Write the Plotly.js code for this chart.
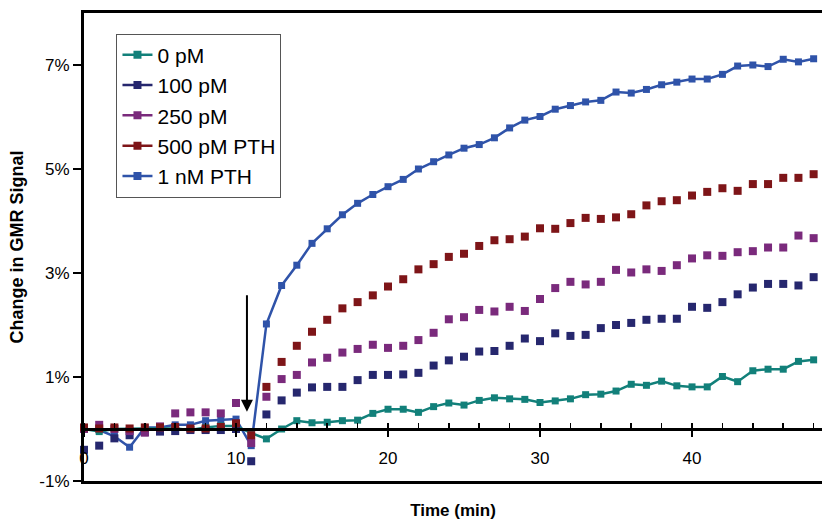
<!DOCTYPE html>
<html>
<head>
<meta charset="utf-8">
<script src="https://cdn.plot.ly/plotly-3.0.1.min.js"></script>
<style>html,body{margin:0;padding:0;background:#fff;}#chart{width:822px;height:520px;}</style>
</head>
<body>
<div id="chart"></div>
<script>
// Time (min)
const time = [0,1,2,3,4,5,6,7,8,9,10,11,12,13,14,15,16,17,18,19,20,21,22,23,24,25,26,27,28,29,30,31,32,33,34,35,36,37,38,39,40,41,42,43,44,45,46,47,48];
// Change in GMR signal (%)
const pM0 = [0,-0.05,0,0.01,0.01,0.01,0.01,-0.02,0.03,0.06,0.06,-0.08,-0.19,0,0.16,0.12,0.13,0.16,0.17,0.30,0.38,0.38,0.32,0.43,0.50,0.46,0.55,0.60,0.58,0.57,0.51,0.54,0.58,0.66,0.67,0.73,0.86,0.84,0.92,0.83,0.81,0.81,1.01,0.91,1.12,1.15,1.15,1.30,1.33];
const pM100 = [-0.40,-0.32,-0.18,-0.12,-0.06,-0.05,-0.04,-0.02,-0.02,-0.02,0.0,-0.62,0.28,0.55,0.70,0.80,0.81,0.81,0.94,1.04,1.04,1.05,1.08,1.22,1.32,1.39,1.49,1.50,1.60,1.74,1.69,1.84,1.79,1.81,1.94,2.00,2.04,2.10,2.12,2.12,2.35,2.33,2.44,2.59,2.72,2.79,2.79,2.76,2.92];
const pM250 = [0.0,0.08,0.0,-0.04,-0.07,0.05,0.30,0.32,0.32,0.30,0.50,-0.27,0.62,0.96,1.04,1.28,1.37,1.47,1.54,1.62,1.56,1.60,1.71,1.85,2.11,2.15,2.29,2.26,2.35,2.27,2.50,2.71,2.83,2.78,2.83,3.06,3.01,3.07,3.04,3.15,3.28,3.34,3.33,3.40,3.42,3.49,3.49,3.72,3.67];
const pM500 = [0.03,0.01,0.03,0.01,0.03,0.03,0.04,0.01,0.01,0.04,0.11,-0.12,0.81,1.29,1.60,1.87,2.10,2.32,2.44,2.57,2.74,2.88,3.07,3.17,3.31,3.37,3.52,3.63,3.65,3.70,3.86,3.85,3.96,4.06,4.04,4.07,4.13,4.30,4.38,4.40,4.49,4.56,4.63,4.58,4.71,4.71,4.83,4.83,4.90];
const nM1 = [0,-0.02,-0.14,-0.35,0.03,0.03,0.08,0.08,0.16,0.17,0.19,-0.32,2.02,2.76,3.15,3.57,3.85,4.12,4.34,4.51,4.66,4.80,5.00,5.14,5.27,5.40,5.47,5.60,5.79,5.94,6.01,6.15,6.22,6.29,6.32,6.48,6.46,6.53,6.62,6.67,6.73,6.73,6.82,6.98,7.00,6.97,7.11,7.06,7.12];

const seriesNames = ['0 pM','100 pM','250 pM','500 pM PTH','1 nM PTH'];
const yTickVals = [-1,1,3,5,7];
const yTickText = yTickVals.map(v => v + '%');
const xTickVals = [0,10,20,30,40];

const colors = {teal:'#12807a', navy:'#26276e', purple:'#7a2a7c', red:'#7e1518', blue:'#2f53a9'};
const FONT = 'Liberation Sans, Arial, Helvetica, sans-serif';
const xRange = [0, 48.55];
const yRange = [-1, 8];
const zeroPos = (0 - yRange[0]) / (yRange[1] - yRange[0]);

function dataTrace(y, color, withLine, mSize) {
  return {
    x: time, y: y, type: 'scatter',
    mode: withLine ? 'lines+markers' : 'markers',
    line: {color: color, width: 2.5},
    marker: {symbol: 'square', size: mSize, color: color},
    showlegend: false, cliponaxis: false, hoverinfo: 'skip'
  };
}
function legendTrace(name, color, rank) {
  return {
    x: [null], y: [null], type: 'scatter', mode: 'lines+markers', name: name,
    line: {color: color, width: 2.5},
    marker: {symbol: 'square', size: 8, color: color},
    legendrank: rank, showlegend: true
  };
}
// invisible carrier traces so the zero-line axes (x2, x3) are drawn
function axisCarrier(axisId) {
  return {
    x: time, y: pM0, xaxis: axisId, yaxis: 'y', type: 'scatter', mode: 'markers',
    marker: {opacity: 0, size: 1}, showlegend: false, hoverinfo: 'skip'
  };
}

const data = [
  axisCarrier('x2'),
  axisCarrier('x3'),
  dataTrace(nM1, colors.blue, true, 7),
  dataTrace(pM0, colors.teal, true, 7),
  dataTrace(pM100, colors.navy, false, 8),
  dataTrace(pM250, colors.purple, false, 8),
  dataTrace(pM500, colors.red, false, 8),
  legendTrace(seriesNames[0], colors.teal, 1),
  legendTrace(seriesNames[1], colors.navy, 2),
  legendTrace(seriesNames[2], colors.purple, 3),
  legendTrace(seriesNames[3], colors.red, 4),
  legendTrace(seriesNames[4], colors.blue, 5)
];

const arrowX = 10.72, arrowTipY = 0.33, arrowTailY = 2.6;

const layout = {
  width: 822, height: 520,
  margin: {l: 84, r: 0, t: 13, b: 39},
  paper_bgcolor: '#ffffff', plot_bgcolor: '#ffffff',
  font: {family: FONT, color: '#000000', size: 17},
  showlegend: true,
  legend: {
    x: 0.044, y: 0.956, xanchor: 'left', yanchor: 'top',
    bordercolor: '#555555', borderwidth: 1, bgcolor: '#ffffff',
    font: {family: FONT, size: 21, color: '#000000'},
    traceorder: 'normal', itemwidth: 30, tracegroupgap: 0
  },
  xaxis: {
    range: xRange, showgrid: false, zeroline: false,
    showline: true, linecolor: '#000000', linewidth: 3, mirror: true,
    ticks: '', showticklabels: false,
    title: {text: 'Time (min)', font: {family: FONT, size: 17, color: '#000000', weight: 'bold'}, standoff: 23}
  },
  xaxis2: {
    overlaying: 'x', anchor: 'free', position: zeroPos, side: 'bottom',
    range: xRange, showgrid: false, zeroline: false,
    showline: true, linecolor: '#000000', linewidth: 3,
    tickmode: 'array', tickvals: xTickVals, ticktext: xTickVals.map(String),
    ticks: 'outside', ticklen: 6, tickwidth: 2, tickcolor: '#000000',
    ticklabelstandoff: 7,
    tickfont: {family: FONT, size: 17, color: '#000000'},
    minor: {dtick: 2, tick0: 0, ticks: 'inside', ticklen: 5, tickwidth: 1.5, tickcolor: '#000000', showgrid: false}
  },
  xaxis3: {
    overlaying: 'x', anchor: 'free', position: zeroPos, side: 'bottom',
    range: xRange, showgrid: false, zeroline: false, showline: false,
    tickmode: 'array', tickvals: xTickVals,
    ticks: 'inside', ticklen: 6, tickwidth: 2, tickcolor: '#000000',
    showticklabels: false
  },
  yaxis: {
    range: yRange, showgrid: false, zeroline: false,
    showline: true, linecolor: '#000000', linewidth: 3,
    tickmode: 'array', tickvals: yTickVals, ticktext: yTickText,
    ticks: 'outside', ticklen: 8, tickwidth: 2, tickcolor: '#000000',
    tickfont: {family: FONT, size: 17, color: '#000000'},
    title: {text: 'Change in GMR Signal', font: {family: FONT, size: 18, color: '#000000', weight: 'bold'}, standoff: 12}
  },
  annotations: [{
    x: arrowX, y: arrowTipY, ax: arrowX, ay: arrowTailY,
    xref: 'x', yref: 'y', axref: 'x', ayref: 'y',
    text: '', showarrow: true, arrowhead: 2, arrowsize: 1.2, arrowwidth: 2, arrowcolor: '#000000'
  }]
};

Plotly.newPlot('chart', data, layout, {staticPlot: true, displayModeBar: false});
</script>
</body>
</html>
